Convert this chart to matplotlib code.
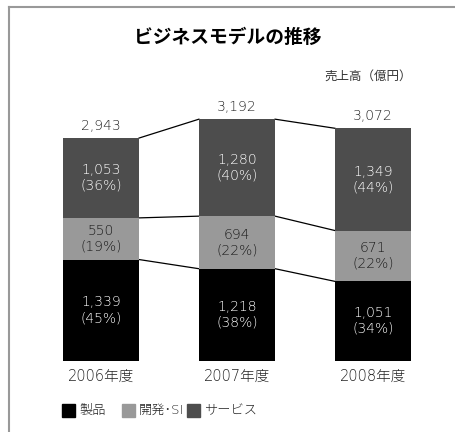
import matplotlib.pyplot as plt
from matplotlib.lines import Line2D
from matplotlib.patches import Rectangle

plt.rcParams['font.family'] = ['DejaVu Sans', 'Noto Sans CJK JP']

years = ['2006年度', '2007年度', '2008年度']
seihin = [1339, 1218, 1051]
kaihatsu = [550, 694, 671]
service = [1053, 1280, 1349]
totals = [2943, 3192, 3072]
pct_seihin = [45, 38, 34]
pct_kaihatsu = [19, 22, 22]
pct_service = [36, 40, 44]
legend_labels = ['製品', '開発･SI', 'サービス']

c_seihin = '#000000'
c_kaihatsu = '#999999'
c_service = '#4d4d4d'

fig = plt.figure(figsize=(4.55, 4.32), dpi=100)
ax = fig.add_axes([0.0725, 0.1644, 0.8967, 0.7014])
ax.set_xlim(-0.5, 2.5)
ax.set_ylim(0, 4000)
ax.axis('off')

x = range(len(years))
w = 0.56
b1 = seihin
b2 = [a + b for a, b in zip(seihin, kaihatsu)]
ax.bar(x, seihin, w, color=c_seihin, zorder=2)
ax.bar(x, kaihatsu, w, bottom=b1, color=c_kaihatsu, zorder=2)
ax.bar(x, service, w, bottom=b2, color=c_service, zorder=2)

# connecting lines between bars
for lvl in [b1, b2, totals]:
    for i in range(len(years) - 1):
        ax.plot([i + w / 2, i + 1 - w / 2], [lvl[i], lvl[i + 1]],
                color='black', lw=0.9, zorder=1)

fs = 10
wt = 'light'
for i in x:
    ax.text(i, seihin[i] / 2, '{:,}\n({}%)'.format(seihin[i], pct_seihin[i]),
            ha='center', va='center', color='white', fontsize=fs,
            linespacing=1.15, fontweight=wt)
    ax.text(i, b1[i] + kaihatsu[i] / 2, '{:,}\n({}%)'.format(kaihatsu[i], pct_kaihatsu[i]),
            ha='center', va='center', color='#1a1a1a', fontsize=fs,
            linespacing=1.15, fontweight=wt)
    ax.text(i, b2[i] + service[i] / 2, '{:,}\n({}%)'.format(service[i], pct_service[i]),
            ha='center', va='center', color='white', fontsize=fs,
            linespacing=1.15, fontweight=wt)
    ax.text(i, totals[i] + 70, '{:,}'.format(totals[i]), ha='center', va='bottom',
            color='#222222', fontsize=fs, fontweight=wt)
    ax.text(i, -100, years[i], ha='center', va='top', color='#222222',
            fontsize=10.5, fontweight=wt)

fig.text(0.5, 1 - 37 / 432, 'ビジネスモデルの推移', ha='center', va='center',
         fontsize=13.5, fontweight='bold', color='black',
         family=['Noto Sans CJK JP', 'DejaVu Sans'])
fig.text(412 / 455, 1 - 76 / 432, '売上高（億円）', ha='right', va='center',
         fontsize=9, color='#333333', family=['Noto Sans CJK JP', 'DejaVu Sans'])

# legend
cols = [c_seihin, c_kaihatsu, c_service]
lx = [62, 122, 187]
for c, px, lab in zip(cols, lx, legend_labels):
    fig.patches.append(Rectangle((px / 455, 1 - 417 / 432), 13 / 455, 13 / 432,
                                 transform=fig.transFigure, color=c))
    fig.text((px + 17) / 455, 1 - 410 / 432, lab, ha='left', va='center',
             fontsize=9.5, color='#222222', fontweight=wt)

# frame lines (top and left)
fig.add_artist(Line2D([9 / 455, 1], [1 - 6.5 / 432, 1 - 6.5 / 432],
                      transform=fig.transFigure, color='#999999', lw=1.5))
fig.add_artist(Line2D([9 / 455, 9 / 455], [0, 1 - 6.5 / 432],
                      transform=fig.transFigure, color='#999999', lw=1.5))

fig.savefig('out.png', dpi=100)
